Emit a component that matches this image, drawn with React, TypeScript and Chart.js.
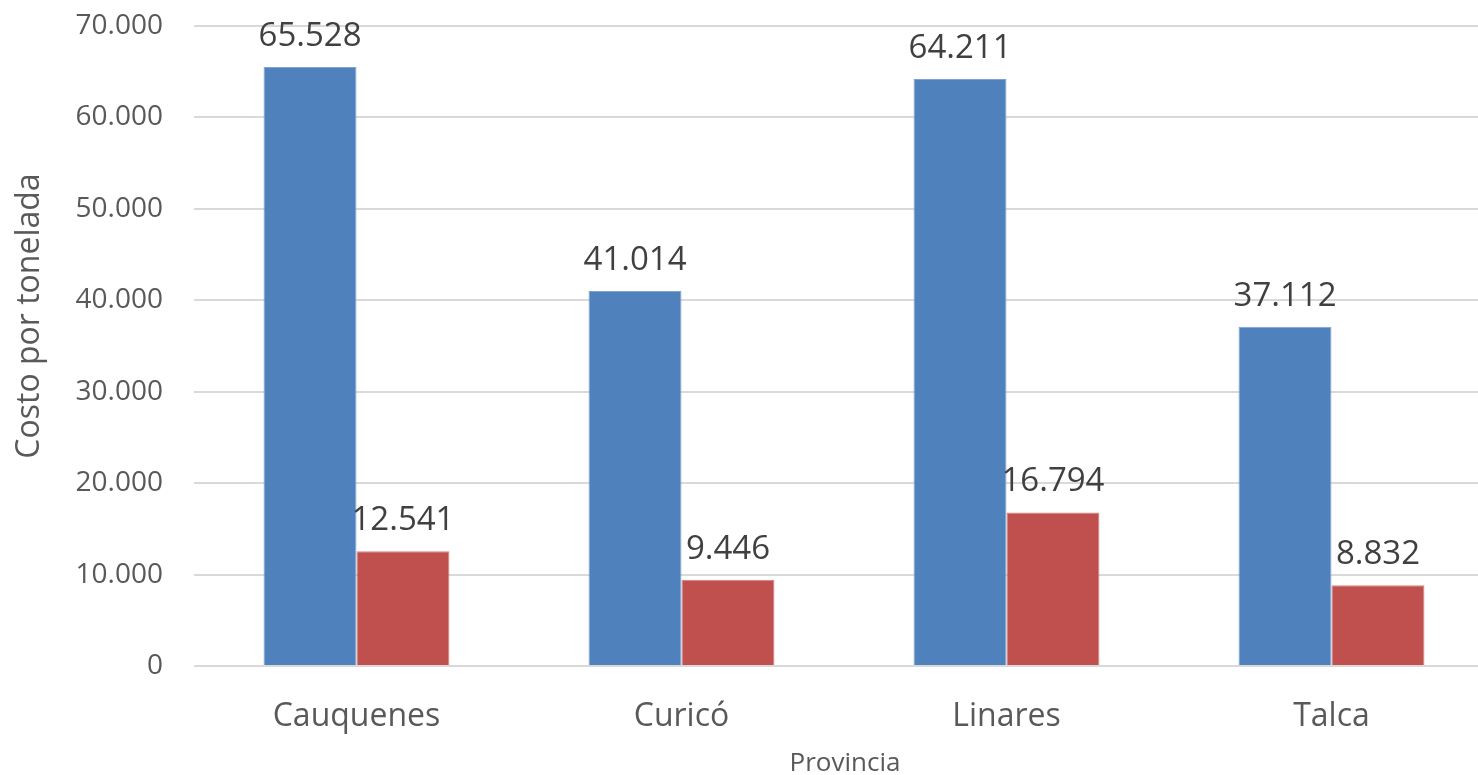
import React, { useEffect, useRef } from "react";
import { Chart, registerables } from "chart.js";

Chart.register(...registerables);

const categories = ["Cauquenes", "Curicó", "Linares", "Talca"];
const seriesA = [65528, 41014, 64211, 37112];
const seriesB = [12541, 9446, 16794, 8832];
const yTicks = [0, 10000, 20000, 30000, 40000, 50000, 60000, 70000];
const yTitle = "Costo por tonelada";
const xTitle = "Provincia";

const FONT = "'Open Sans', 'DejaVu Sans', sans-serif";

function fmt(v: number): string {
  return Math.round(v)
    .toString()
    .replace(/\B(?=(\d{3})+(?!\d))/g, ".");
}

const dataLabels = {
  id: "dataLabels",
  afterDatasetsDraw(chart: any) {
    const ctx = chart.ctx;
    ctx.save();
    ctx.font = `33px ${FONT}`;
    ctx.fillStyle = "#404040";
    ctx.textAlign = "center";
    ctx.textBaseline = "alphabetic";
    chart.data.datasets.forEach((ds: any, i: number) => {
      const meta = chart.getDatasetMeta(i);
      meta.data.forEach((bar: any, j: number) => {
        ctx.fillText(fmt(ds.data[j]), bar.x, bar.y - 21);
      });
    });
    ctx.restore();
  },
};

const axisTitles = {
  id: "axisTitles",
  afterDraw(chart: any) {
    const ctx = chart.ctx;
    ctx.save();
    ctx.fillStyle = "#595959";
    ctx.textAlign = "center";
    ctx.textBaseline = "middle";
    ctx.font = `32px ${FONT}`;
    ctx.translate(30, 316);
    ctx.rotate(-Math.PI / 2);
    ctx.fillText(yTitle, 0, 0);
    ctx.restore();
    ctx.save();
    ctx.fillStyle = "#595959";
    ctx.textAlign = "center";
    ctx.textBaseline = "middle";
    ctx.font = `26px ${FONT}`;
    ctx.fillText(xTitle, 845, 764);
    ctx.restore();
  },
};

export default function App() {
  const ref = useRef<HTMLCanvasElement>(null);
  useEffect(() => {
    document.body.style.margin = "0";
    const chart = new Chart(ref.current!, {
      type: "bar",
      data: {
        labels: categories,
        datasets: [
          {
            label: "A",
            data: seriesA,
            backgroundColor: "#4F81BD",
            borderColor: "#7FA3D0",
            borderWidth: 1,
            categoryPercentage: 0.572,
            barPercentage: 1,
          },
          {
            label: "B",
            data: seriesB,
            backgroundColor: "#C0504D",
            borderColor: "#D48381",
            borderWidth: 1,
            categoryPercentage: 0.572,
            barPercentage: 1,
          },
        ],
      },
      options: {
        responsive: false,
        animation: false,
        layout: { padding: { left: 0, right: 0, top: 26, bottom: 0 } },
        plugins: { legend: { display: false }, tooltip: { enabled: false } },
        scales: {
          x: {
            grid: { display: false },
            border: { display: false },
            ticks: {
              color: "#595959",
              font: { family: FONT, size: 32 },
              padding: 24,
            },
            afterFit(scale: any) {
              scale.height = 109;
              scale.paddingLeft = 0;
              scale.paddingRight = 0;
            },
          },
          y: {
            min: 0,
            max: 70000,
            afterBuildTicks(scale: any) {
              scale.ticks = yTicks.map((v) => ({ value: v }));
            },
            grid: { color: "#D9D9D9", lineWidth: 2, drawTicks: false },
            border: { display: false },
            ticks: {
              color: "#595959",
              font: { family: FONT, size: 28 },
              padding: 31,
              callback: (v: any) => fmt(Number(v)),
            },
            afterFit(scale: any) {
              scale.width = 194;
              scale.paddingTop = 0;
              scale.paddingBottom = 0;
            },
          },
        },
      },
      plugins: [dataLabels, axisTitles],
    });
    return () => chart.destroy();
  }, []);
  return (
    <div style={{ width: 1478, height: 775, overflow: "hidden" }}>
      <canvas ref={ref} width={1494} height={775} style={{ display: "block" }} />
    </div>
  );
}
